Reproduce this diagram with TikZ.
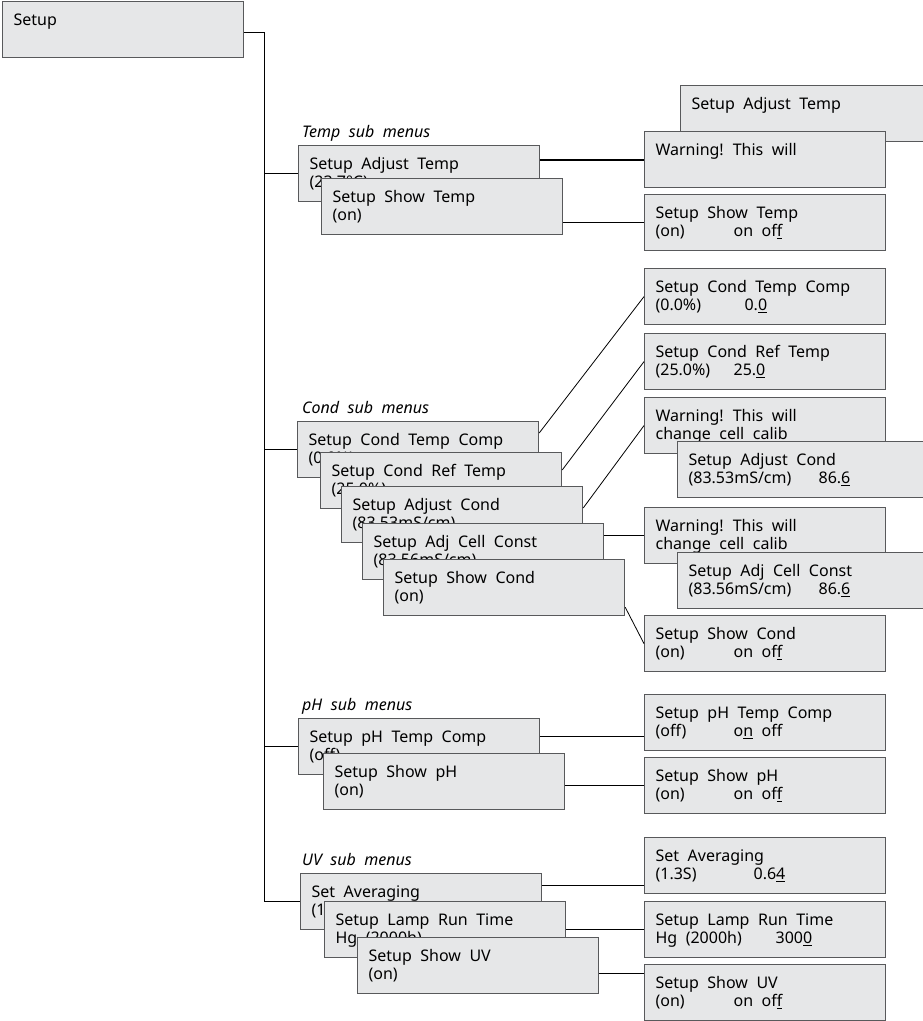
\documentclass[tikz,border=0pt]{standalone}
\usepackage{fontspec}
\setmainfont{Noto Sans}
\usepackage{xcolor}
\usepackage{tikz}

\definecolor{menufill}{HTML}{E6E7E8}
\definecolor{menuedge}{HTML}{58595B}
\newcommand{\menufont}{\fontsize{16}{18}\selectfont}
\newcommand{\wordgap}{\spaceskip=8.5pt plus 1pt\xspaceskip=9pt plus 1pt\relax}
\newcommand{\valat}[3]{\makebox[#1pt][l]{#2}#3}

\begin{document}
\begin{tikzpicture}[x=1pt,y=-1pt,
  menu/.style={draw=menuedge,fill=menufill,line width=1.2pt,anchor=north west,
    minimum width=241pt,minimum height=56pt,text width=219pt,inner xsep=11pt,inner ysep=0pt,
    align=left,font=\menufont,
    execute at begin node=\wordgap\rule{0pt}{24pt},execute at end node=\rule[-14pt]{0pt}{14pt}},
  widemenu/.style={menu,minimum width=250pt,text width=228pt},
  sublabel/.style={anchor=base west,inner sep=0pt,font=\menufont\itshape,execute at begin node=\wordgap},
  link/.style={line width=0.8pt}]
  \useasboundingbox (0,0) rectangle (923,1021);
  \node[menu,minimum width=240pt,font=\menufont\bfseries] (setup) at (2,1) {Setup\\};
  \coordinate (trunk) at (264,0);

  % Temp
  \node[sublabel] (templbl) at (302,137) {Temp sub menus};
  \node[menu] (t1) at (298,145) {Setup Adjust Temp\\(23.7°C)};
  \node[menu] (t2) at (321,178) {Setup Show Temp\\(on)};
  \node[widemenu] (tr0) at (680,85) {Setup Adjust Temp\\};
  \node[menu] (tw) at (644,131) {Warning! This will\\};
  \node[menu] (tsr) at (644,194) {Setup Show Temp\\\valat{78}{(on)}{on of\underline{f}}};

  % Cond
  \node[sublabel] (condlbl) at (302,413) {Cond sub menus};
  \node[menu] (c1) at (297,421) {Setup Cond Temp Comp\\(0.0\%)};
  \node[menu] (c2) at (320,452) {Setup Cond Ref Temp\\(25.0\%)};
  \node[menu] (c3) at (341,486) {Setup Adjust Cond\\(83.53mS/cm)};
  \node[menu] (c4) at (362,523) {Setup Adj Cell Const\\(83.56mS/cm)};
  \node[menu] (c5) at (383,559) {Setup Show Cond\\(on)};
  \node[menu] (r1) at (644,268) {Setup Cond Temp Comp\\\valat{89}{(0.0\%)}{0.\underline{0}}};
  \node[menu] (r2) at (644,333) {Setup Cond Ref Temp\\\valat{78}{(25.0\%)}{25.\underline{0}}};
  \node[menu] (cw1) at (644,397) {Warning! This will\\change cell calib};
  \node[widemenu] (r4) at (677,441) {Setup Adjust Cond\\\valat{130}{(83.53mS/cm)}{86.\underline{6}}};
  \node[menu] (cw2) at (644,507) {Warning! This will\\change cell calib};
  \node[widemenu] (r5) at (677,552) {Setup Adj Cell Const\\\valat{130}{(83.56mS/cm)}{86.\underline{6}}};
  \node[menu] (csr) at (644,615) {Setup Show Cond\\\valat{78}{(on)}{on of\underline{f}}};

  % pH
  \node[sublabel] (phlbl) at (302,710) {pH sub menus};
  \node[menu] (p1) at (298,718) {Setup pH Temp Comp\\(off)};
  \node[menu] (p2) at (323,753) {Setup Show pH\\(on)};
  \node[menu] (pr1) at (644,694) {Setup pH Temp Comp\\\valat{78}{(off)}{o\underline{n} off}};
  \node[menu] (pr2) at (644,757) {Setup Show pH\\\valat{78}{(on)}{on of\underline{f}}};

  % UV
  \node[sublabel] (uvlbl) at (302,865) {UV sub menus};
  \node[menu] (u1) at (300,873) {Set Averaging\\(1.3S)};
  \node[menu] (u2) at (324,901) {Setup Lamp Run Time\\Hg (2000h)};
  \node[menu] (u3) at (357,937) {Setup Show UV\\(on)};
  \node[menu] (ur1) at (644,837) {Set Averaging\\\valat{98}{(1.3S)}{0.6\underline{4}}};
  \node[menu] (ur2) at (644,901) {Setup Lamp Run Time\\\valat{120}{Hg (2000h)}{300\underline{0}}};
  \node[menu] (ur3) at (644,964) {Setup Show UV\\\valat{78}{(on)}{on of\underline{f}}};

  % connectors
  \draw[link] ([yshift=-3pt]setup.east) -| (trunk |- u1.west);
  \foreach \first in {t1,c1,p1,u1}
    \draw[link] (trunk |- \first.west) -- (\first.west);
  \draw[link,line width=2pt] (t1.east |- tw.west) -- (tw.west);
  \draw[link] (t2.east |- tsr.west) -- (tsr.west);
  \draw[link] ([yshift=-12pt]c1.north east) -- (r1.west);
  \draw[link] ([yshift=-18pt]c2.north east) -- (r2.west);
  \draw[link] ([yshift=-22pt]c3.north east) -- (cw1.west);
  \draw[link] (c4.east |- cw2.west) -- (cw2.west);
  \draw[link] ([yshift=9pt]c5.south east) -- (csr.west);
  \draw[link] ([yshift=10pt]p1.east) -- ([yshift=10pt]p1.east -| pr1.west);
  \draw[link] (p2.east |- pr2.west) -- (pr2.west);
  \draw[link] ([yshift=-12pt]u1.north east) -- ([yshift=-12pt]u1.north east -| ur1.west);
  \draw[link] (u2.east) -- (ur2.west);
  \draw[link] ([yshift=-36pt]u3.north east) -- ([yshift=-36pt]u3.north east -| ur3.west);
\end{tikzpicture}
\end{document}
